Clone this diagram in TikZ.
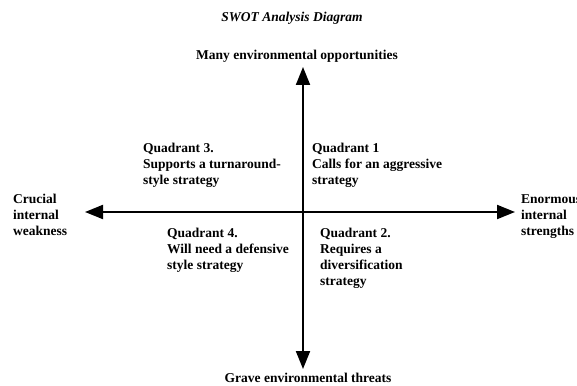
\documentclass[tikz,border=0pt]{standalone}
\usepackage{fontspec}
\setmainfont{Liberation Serif}
\usetikzlibrary{arrows.meta, positioning}

\begin{document}
\begin{tikzpicture}[x=1pt, y=-1pt, >={Triangle[length=18pt, width=14pt]},
  lbl/.style={font=\fontsize{13.5}{16}\selectfont\bfseries, inner sep=0pt, align=left, anchor=base west},
  axis/.style={<->, line width=2pt}]
  \useasboundingbox (0, 0) rectangle (577, 385);
  \clip (0, 0) rectangle (577, 385);

  \node[lbl, anchor=base, font=\fontsize{13.5}{16}\selectfont\bfseries\itshape] (title) at (292, 22) {SWOT Analysis Diagram};
  \node[lbl, anchor=base] (opp) at (297, 60) {Many environmental opportunities};
  \node[lbl, anchor=base] (threat) at (308, 382) {Grave environmental threats};

  % multi-line labels sit on the baseline of their last line
  \node[lbl] (weak) at (13, 235) {Crucial\\internal\\weakness};
  \node[lbl] (strong) at (521, 235) {Enormous\\internal\\strengths};

  \node[lbl] (q3) at (143, 184) {Quadrant 3.\\Supports a turnaround-\\style strategy};
  \node[lbl] (q1) at (312, 184) {Quadrant 1\\Calls for an aggressive\\strategy};
  \node[lbl] (q4) at (167, 269) {Quadrant 4.\\Will need a defensive\\style strategy};
  \node[lbl] (q2) at (320, 285) {Quadrant 2.\\Requires a\\diversification\\strategy};

  \coordinate (N) at (303, 67);
  \coordinate (S) at (303, 369);
  \coordinate (W) at (85, 212);
  \coordinate (E) at (515, 212);

  \draw[axis] (W) -- (E);
  \draw[axis] (N) -- (S);
\end{tikzpicture}
\end{document}
